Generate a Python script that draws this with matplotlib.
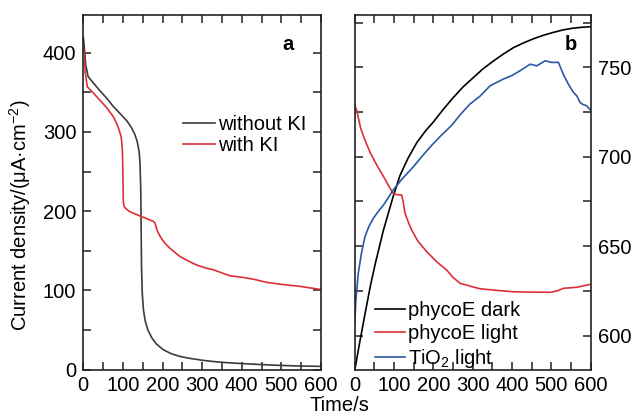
"""Chronoamperometry (panel a) and open-circuit potential traces (panel b)."""
import matplotlib
matplotlib.use("Agg")
import matplotlib.pyplot as plt
from matplotlib.ticker import MultipleLocator

plt.rcParams["font.family"] = ["Liberation Sans", "DejaVu Sans"]
plt.rcParams["mathtext.fontset"] = "custom"
plt.rcParams["mathtext.rm"] = "Liberation Sans"
plt.rcParams["mathtext.default"] = "regular"
plt.rcParams["font.size"] = 14.5

# panel a: current density vs time
t_no_ki = [0, 2, 6, 12, 25, 42, 60, 76, 95, 110, 122, 130, 136, 141, 143, 145,
           146, 147, 149, 152, 156, 163, 173, 185, 202, 222, 244, 270, 303,
           340, 370, 420, 480, 540, 600]
j_no_ki = [420, 410, 385, 370, 362, 352, 342, 332, 322, 314, 305, 297, 288,
           275, 262, 230, 180, 130, 95, 75, 62, 50, 40, 32, 25, 20, 16.5, 14,
           11.5, 9.5, 8.4, 7, 5.5, 4.5, 4]

t_ki = [0, 2, 5, 10, 20, 42, 60, 76, 85, 90, 95, 97, 99, 100, 101, 103, 106,
        115, 126, 140, 151, 165, 177, 181, 185, 188, 194, 205, 219, 232, 244,
        265, 286, 310, 328, 350, 370, 400, 430, 463, 500, 547, 600]
j_ki = [408, 400, 375, 357, 352, 340, 330, 319, 310, 303, 295, 288, 272, 245,
        212, 206, 204, 200, 197.4, 194.5, 192.3, 189.5, 187, 185, 178, 174,
        168, 160, 153, 147.5, 142.7, 137, 132, 128, 126, 122, 118.4, 116.5,
        114, 110, 107.5, 105, 101]

# panel b: potential vs time
t_dark = [0, 10, 26, 40, 52, 73, 98, 115, 135, 158, 180, 200, 225, 250, 275,
          300, 325, 352, 378, 403, 430, 454, 480, 505, 530, 556, 580, 600]
e_dark = [580.5, 593, 612, 628, 640, 659, 678, 689.5, 699, 708, 714.5, 719.5,
          726.5, 733, 739, 744, 749, 753.5, 757.5, 761, 763.8, 766, 768,
          769.6, 771, 772, 772.5, 772.8]

t_light = [0, 5, 15, 26, 40, 56, 73, 90, 98, 108, 119.5, 123, 128, 137, 145,
           160, 183, 210, 234, 250, 268, 293, 314, 327, 360, 403, 450, 497,
           515, 530, 564, 598]
e_light = [729, 726, 716, 709.3, 702, 695.4, 689, 682.3, 679.5, 678.8, 678.6,
           675, 668.3, 663, 659, 653, 646.9, 641, 636.6, 632.5, 629.2, 627.7,
           626.4, 626, 625.3, 624.5, 624.3, 624.2, 625, 626.4, 627, 628.6]

t_tio2 = [0, 3, 9, 17, 26, 36, 47, 60, 73, 85, 98, 120, 149, 170, 196, 220,
          246, 270, 293, 319, 344, 378, 400, 420, 446, 463, 484, 501, 518, 530,
          543, 556, 565, 573, 580, 590, 600]
e_tio2 = [606.8, 620, 634.8, 646, 655.3, 661, 665.5, 669.5, 673, 677, 681.5,
          687.5, 694.4, 700, 706.5, 712, 717.5, 724, 729.5, 734, 739.7, 743.5,
          745.5, 748.1, 751.8, 750.9, 753.7, 752.8, 752.8, 746.3, 740.7, 736,
          734, 730.4, 729.3, 728.5, 725.9]

GRAY = "#3c3c3c"
RED = "#dc2f37"
BLUE = "#2b58a5"

fig = plt.figure(figsize=(6.33, 4.15), dpi=100)
ax_a = fig.add_axes([0.1316, 0.1096, 0.3754, 0.855])
ax_b = fig.add_axes([0.5604, 0.1096, 0.3728, 0.855])


def style(ax):
    for s in ax.spines.values():
        s.set_linewidth(1.2)
        s.set_color("#222222")
    ax.tick_params(which="both", direction="in", length=5.5, width=1.1,
                   top=True, right=True, pad=5, color="#222222")
    ax.xaxis.set_major_locator(MultipleLocator(100))
    ax.xaxis.set_minor_locator(MultipleLocator(50))
    ax.set_xlim(0, 600)


# --- a ---
ax_a.plot(t_no_ki, j_no_ki, color=GRAY, lw=1.2, label="without KI")
ax_a.plot(t_ki, j_ki, color=RED, lw=1.2, label="with KI")
style(ax_a)
ax_a.set_ylim(0, 448)
ax_a.yaxis.set_major_locator(MultipleLocator(100))
ax_a.yaxis.set_minor_locator(MultipleLocator(50))
ax_a.text(0.86, 0.915, "a", transform=ax_a.transAxes, fontsize=14.5,
          fontweight="bold", ha="center", va="center")
ax_a.legend(loc="upper left", bbox_to_anchor=(0.418, 0.718), frameon=False,
            borderpad=0, borderaxespad=0, handlelength=1.6, handletextpad=0.15,
            labelspacing=0.1)

# --- b ---
ax_b.plot(t_dark, e_dark, color="black", lw=1.2, label="phycoE dark")
ax_b.plot(t_light, e_light, color=RED, lw=1.2, label="phycoE light")
ax_b.plot(t_tio2, e_tio2, color=BLUE, lw=1.2, label="TiO$_2$ light")
style(ax_b)
ax_b.set_ylim(581, 779.5)
ax_b.yaxis.tick_right()
ax_b.tick_params(axis="y", which="both", left=True, right=True)
ax_b.yaxis.set_major_locator(MultipleLocator(50))
ax_b.yaxis.set_minor_locator(MultipleLocator(25))
ax_b.text(0.915, 0.915, "b", transform=ax_b.transAxes, fontsize=14.5,
          fontweight="bold", ha="center", va="center")
ax_b.legend(loc="upper left", bbox_to_anchor=(0.086, 0.193), frameon=False,
            borderpad=0, borderaxespad=0, handlelength=1.5, handletextpad=0.15,
            labelspacing=0.2)

fig.text(0.032, 0.482, "Current density/(μA·cm$^{-2}$)", rotation=90,
         ha="center", va="center")
fig.text(0.537, 0.024, "Time/s", ha="center", va="center")

fig.savefig("out.png", dpi=100)
